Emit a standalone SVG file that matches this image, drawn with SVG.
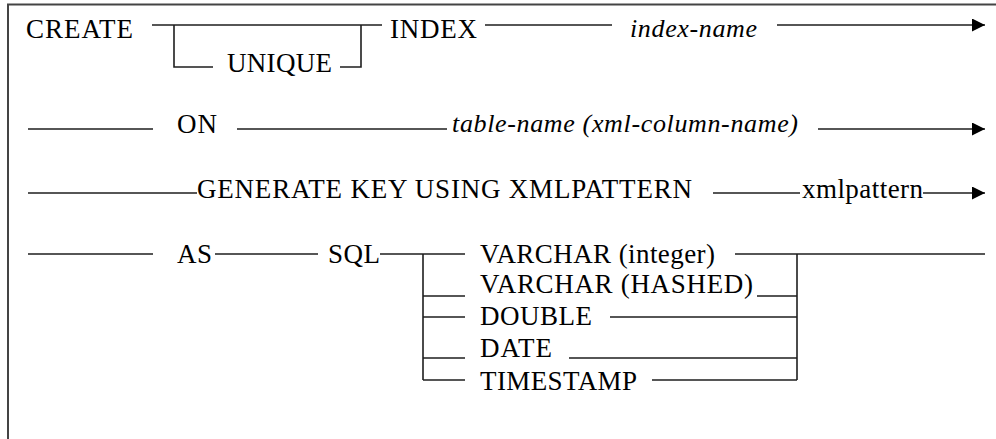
<svg xmlns="http://www.w3.org/2000/svg" width="996" height="439" viewBox="0 0 996 439">
  <style>
    text { font-family: "Liberation Serif", Tinos, "Nimbus Roman", "Nimbus Roman No9 L", "Times New Roman", Times, "FreeSerif", "DejaVu Serif", "Noto Serif", serif; fill: #000; }
    .kw { font-size: 27px; }
    .var { font-size: 26px; font-style: italic; }
    .ln { fill: none; stroke: #1e1e1e; stroke-width: 1.6; }
    .frame { fill: #fff; stroke: #444; stroke-width: 2; }
  </style>
  <defs>
    <marker id="arrow" viewBox="0 0 13 13" refX="13" refY="6.5" markerWidth="13" markerHeight="13" markerUnits="userSpaceOnUse" orient="auto">
      <path d="M0,0 L13,6.5 L0,13 Z" fill="#000"/>
    </marker>
  </defs>

  <rect width="996" height="439" fill="#fff"/>
  <!-- open frame: only the top and left edges fall inside the canvas -->
  <rect class="frame" x="8" y="4.5" width="1010" height="460"/>

  <!-- syntax keywords and variables -->
  <g id="create"><text class="kw" x="26" y="38" textLength="107">CREATE</text></g>
  <g id="unique"><text class="kw" x="227" y="72" textLength="105">UNIQUE</text></g>
  <g id="index"><text class="kw" x="390" y="38" textLength="87">INDEX</text></g>
  <g id="index-name"><text class="var" x="630" y="37" textLength="127">index-name</text></g>

  <g id="on"><text class="kw" x="177" y="133" textLength="40">ON</text></g>
  <g id="table-name"><text class="var" x="452" y="132" textLength="346">table-name (xml-column-name)</text></g>

  <g id="generate-key"><text class="kw" x="197" y="198" textLength="495">GENERATE KEY USING XMLPATTERN</text></g>
  <g id="xmlpattern"><text class="kw" x="802" y="198" textLength="121">xmlpattern</text></g>

  <g id="as"><text class="kw" x="177" y="263" textLength="35">AS</text></g>
  <g id="sql"><text class="kw" x="328" y="263" textLength="52">SQL</text></g>
  <g id="varchar-integer"><text class="kw" x="480" y="263" textLength="235">VARCHAR (integer)</text></g>
  <g id="varchar-hashed"><text class="kw" x="480" y="293" textLength="273">VARCHAR (HASHED)</text></g>
  <g id="double"><text class="kw" x="480" y="325" textLength="112">DOUBLE</text></g>
  <g id="date"><text class="kw" x="480" y="357" textLength="72">DATE</text></g>
  <g id="timestamp"><text class="kw" x="480" y="390" textLength="157">TIMESTAMP</text></g>

  <!-- railroad connectors -->
  <g id="connectors">
    <!-- row 1: CREATE [UNIQUE] INDEX index-name -->
    <path class="ln" d="M152,25 H382"/>
    <path class="ln" d="M174,25 V67 H213"/>
    <path class="ln" d="M340,67 H361 V25"/>
    <path class="ln" d="M485,25 H612"/>
    <path class="ln" d="M777,25 H985" marker-end="url(#arrow)"/>

    <!-- row 2: ON table-name -->
    <path class="ln" d="M28,129 H153"/>
    <path class="ln" d="M237,129 H447"/>
    <path class="ln" d="M818,129 H985" marker-end="url(#arrow)"/>

    <!-- row 3: GENERATE KEY USING XMLPATTERN -->
    <path class="ln" d="M28,193 H197"/>
    <path class="ln" d="M713,193 H800"/>
    <path class="ln" d="M923,193 H985" marker-end="url(#arrow)"/>

    <!-- row 4: AS SQL data type choice -->
    <path class="ln" d="M28,254 H153"/>
    <path class="ln" d="M215,254 H318"/>
    <path class="ln" d="M380,254 H465"/>
    <path class="ln" d="M423,254 V380"/>
    <path class="ln" d="M423,296 H465"/>
    <path class="ln" d="M423,317 H465"/>
    <path class="ln" d="M423,358 H465"/>
    <path class="ln" d="M423,380 H465"/>

    <path class="ln" d="M735,254 H985"/>
    <path class="ln" d="M797,254 V380"/>
    <path class="ln" d="M757,296 H797"/>
    <path class="ln" d="M610,317 H797"/>
    <path class="ln" d="M569,358 H797"/>
    <path class="ln" d="M652,380 H797"/>
  </g>
</svg>
